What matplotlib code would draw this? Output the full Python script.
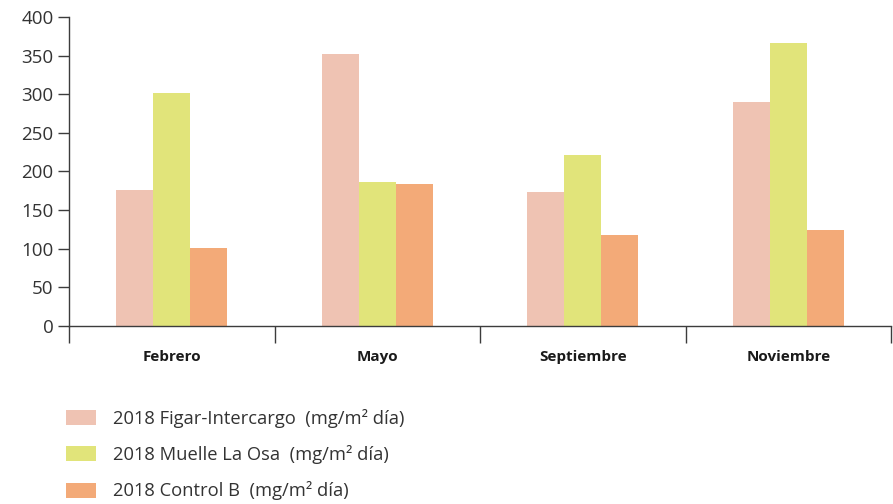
"""
Depósito de material particulado por estación y mes (2018).
"""

import matplotlib
matplotlib.use("Agg")
import matplotlib.pyplot as plt
from matplotlib.patches import Patch
import numpy as np

plt.rcParams["font.family"] = ["Open Sans", "DejaVu Sans"]

months = ["Febrero", "Mayo", "Septiembre", "Noviembre"]
figar = [176, 352, 173, 290]
muelle = [301, 186, 221, 366]
control = [101, 184, 118, 124]

series_labels = [
    "2018 Figar-Intercargo  (mg/m² día)",
    "2018 Muelle La Osa  (mg/m² día)",
    "2018 Control B  (mg/m² día)",
]
colors = ["#EFC3B3", "#E1E47A", "#F3AA78"]

fig = plt.figure(figsize=(8.93, 5.04), dpi=100)
ax = fig.add_axes([69 / 893, (504 - 326) / 504, (891 - 69) / 893, 309 / 504])

x = np.arange(len(months))
width = 0.18
for i, (vals, col) in enumerate(zip([figar, muelle, control], colors)):
    ax.bar(x + (i - 1) * width, vals, width, color=col, linewidth=0)

ax.set_xlim(-0.5, len(months) - 0.5)
ax.set_ylim(0, 400)
ax.set_yticks(np.arange(0, 401, 50))

# Etiquetas centradas, marcas entre categorías
ax.set_xticks(x)
ax.set_xticklabels(months, fontweight="bold", fontsize=11, color="#1a1a1a")
ax.tick_params(axis="x", which="major", length=0, pad=17)
ax.set_xticks(np.arange(-0.5, len(months)), minor=True)
ax.tick_params(axis="x", which="minor", length=12, width=1, color="#3c3c3c")
ax.tick_params(axis="y", length=8, width=1, color="#3c3c3c",
               labelsize=13.5, labelcolor="#333333", pad=3)

for side in ["top", "right"]:
    ax.spines[side].set_visible(False)
for side in ["left", "bottom"]:
    ax.spines[side].set_color("#3c3c3c")
    ax.spines[side].set_linewidth(1)

handles = [Patch(facecolor=c, edgecolor="none") for c in colors]
fig.legend(
    handles,
    series_labels,
    loc="upper left",
    bbox_to_anchor=(66 / 893, 1 - 409 / 504),
    frameon=False,
    fontsize=13.2,
    handlelength=1.64,
    handleheight=0.87,
    handletextpad=0.93,
    labelspacing=0.94,
    borderpad=0,
    borderaxespad=0,
    labelcolor="#333333",
)

fig.savefig("out.png", dpi=100)
